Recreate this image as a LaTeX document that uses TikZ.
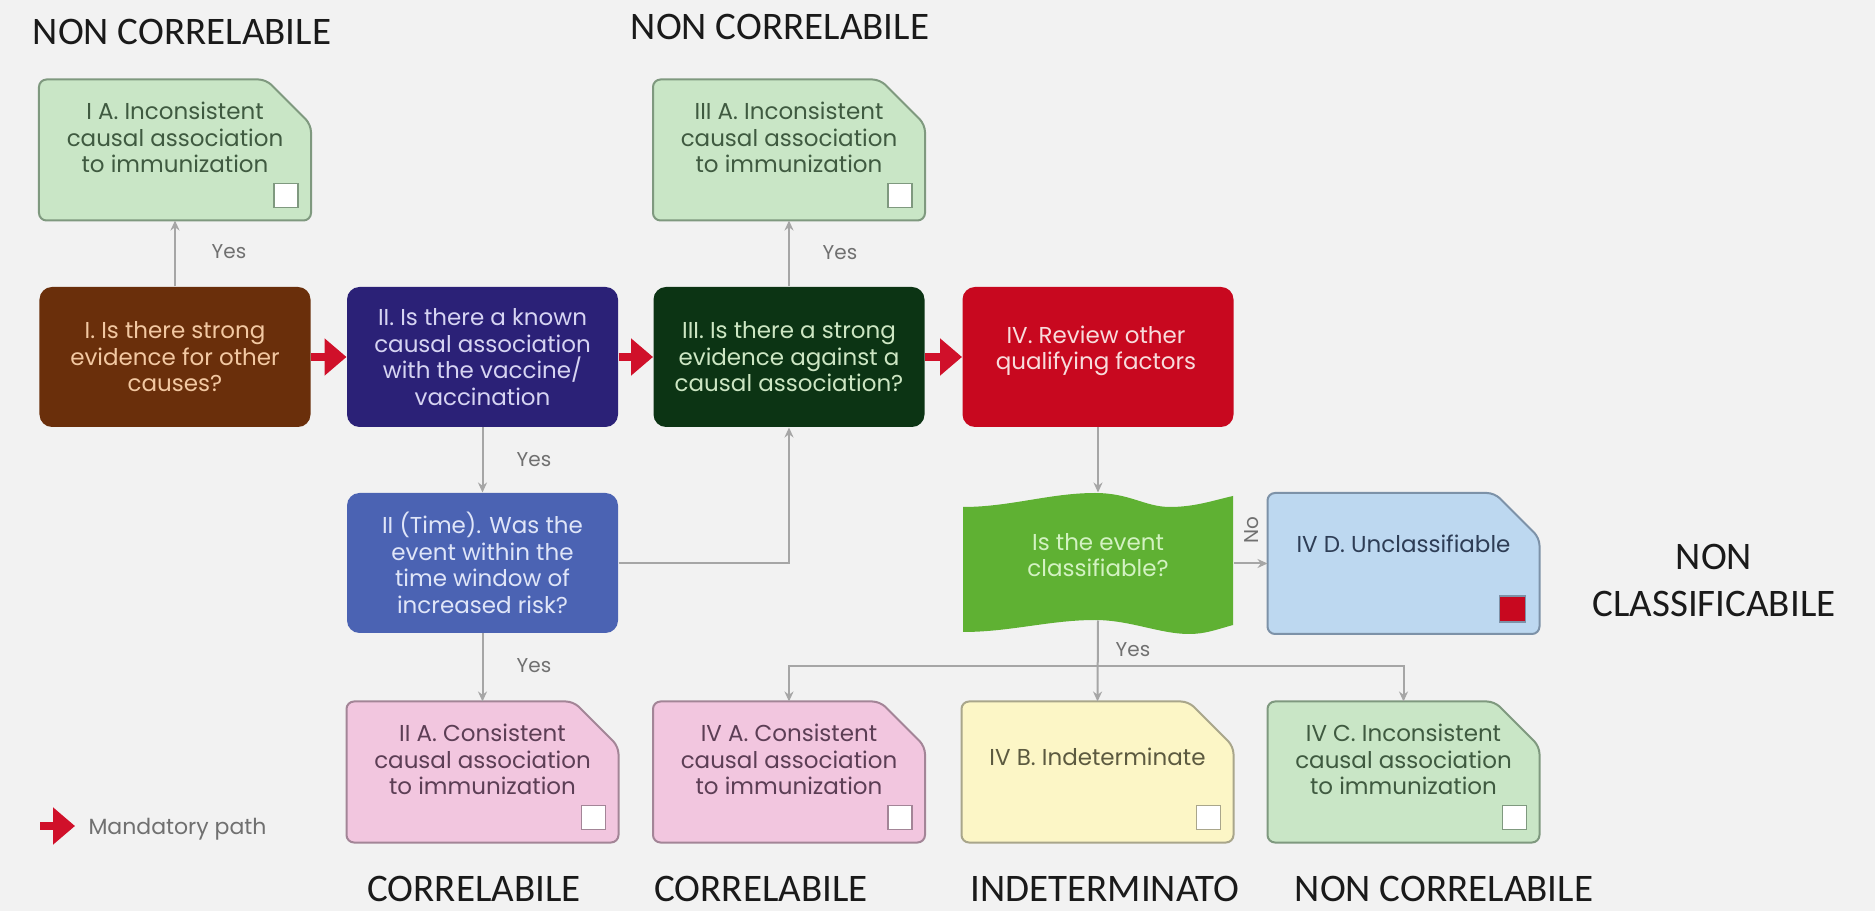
\documentclass[tikz,border=0pt]{standalone}
\usepackage{fontspec}
\setmainfont{Poppins}
\newfontfamily\capfont{Carlito}
\usetikzlibrary{arrows.meta,calc}

\definecolor{paper}{HTML}{F2F2F2}
\definecolor{mandred}{HTML}{D0102A}
\definecolor{linegrey}{HTML}{A6A6A6}
\definecolor{labelgrey}{HTML}{707070}
\definecolor{qbrown}{HTML}{6A2F0B}
\definecolor{qbrowntxt}{HTML}{F2C8A2}
\definecolor{qnavy}{HTML}{2B2177}
\definecolor{qnavytxt}{HTML}{D6D4F2}
\definecolor{qforest}{HTML}{0C3414}
\definecolor{qforesttxt}{HTML}{CDE6C3}
\definecolor{qred}{HTML}{C8081F}
\definecolor{qredtxt}{HTML}{F8DCDC}
\definecolor{qblue}{HTML}{4B63B3}
\definecolor{qbluetxt}{HTML}{DFE5F8}
\definecolor{qgreen}{HTML}{5FB133}
\definecolor{qgreentxt}{HTML}{D3F2C2}
\definecolor{rgreen}{HTML}{C9E6C6}
\definecolor{rgreenline}{HTML}{7F997F}
\definecolor{rgreentxt}{HTML}{3F5A40}
\definecolor{rpink}{HTML}{F2C6DF}
\definecolor{rpinkline}{HTML}{A38597}
\definecolor{rpinktxt}{HTML}{5C3E55}
\definecolor{ryellow}{HTML}{FCF6C6}
\definecolor{ryellowline}{HTML}{A9A68B}
\definecolor{ryellowtxt}{HTML}{5C5A40}
\definecolor{rblue}{HTML}{BDD8F0}
\definecolor{rblueline}{HTML}{7D92A8}
\definecolor{rbluetxt}{HTML}{2E3D55}
\definecolor{inkdark}{HTML}{1A1A1A}

% outcome card: rectangle with the top-right corner cut off
\newcommand\outcomeshape[3]{%
  \draw[fill=#2, draw=#3, line width=0.8pt, rounded corners=3pt]
    (#1.south west) -- (#1.north west) -- ($(#1.north east)+(-45,0)$)
    -- ($(#1.north east)+(0,45)$) -- (#1.south east) -- cycle;}

\tikzset{
  qbox/.style={rectangle, rounded corners=5pt, minimum width=108.4pt,
    minimum height=56pt, inner sep=0pt, align=center,
    font=\fontsize{9.2}{10.6}\selectfont},
  slot/.style={rectangle, minimum width=108.4pt, minimum height=56pt, inner sep=0pt},
  rtext/.style={align=center, inner sep=0pt, font=\fontsize{9.2}{10.6}\selectfont},
  chk/.style={draw=#1, fill=white, line width=0.6pt, minimum size=9.6pt, inner sep=0pt},
  flow/.style={draw=linegrey, line width=0.8pt, -{Stealth[length=4pt,width=3.6pt]}},
  mand/.style={draw=mandred, line width=3pt, -{Triangle[length=8.8pt,width=14.4pt]}},
  yeslbl/.style={text=labelgrey, font=\fontsize{8}{9}\selectfont, inner sep=0pt},
  verdict/.style={text=inkdark, font=\capfont\fontsize{15.6}{17.2}\selectfont,
    inner sep=0pt, anchor=base}
}

\begin{document}
\begin{tikzpicture}[x=0.4pt, y=-0.4pt]
\fill[paper] (0,0) rectangle (1875,911);
\useasboundingbox (0,0) rectangle (1875,911);

% ---- question boxes ----
\node[qbox, fill=qbrown, text=qbrowntxt] (qi) at (175,357)
  {I. Is there strong\\evidence for other\\causes?};
\node[qbox, fill=qnavy, text=qnavytxt] (qii) at (482.5,357)
  {II. Is there a known\\causal association\\with the vaccine/\\vaccination};
\node[qbox, fill=qforest, text=qforesttxt] (qiii) at (789,357)
  {III. Is there a strong\\evidence against a\\causal association?};
\node[qbox, fill=qred] (qiv) at (1098,357) {};
\node[rtext, text=qredtxt] (qiv-t) at (1096,351) {IV. Review other\\qualifying factors};
\node[qbox, fill=qblue, text=qbluetxt] (qiit) at (482.5,563)
  {II (Time). Was the\\event within the\\time window of\\increased risk?};

% ---- classification tape ----
\node[rectangle, minimum width=108.4pt, minimum height=50.8pt, inner sep=0pt] (cls) at (1098,556.5) {};
\fill[qgreen] (963,507) .. controls (1010,507) and (1050,493) .. (1095,493)
  .. controls (1130,493) and (1145,507) .. (1170,507)
  .. controls (1195,507) and (1215,500) .. (1233,496) -- (1233,625)
  .. controls (1215,630) and (1205,634) .. (1189,634)
  .. controls (1160,634) and (1130,620) .. (1095,620)
  .. controls (1050,620) and (1010,632) .. (963,632) -- cycle;
\node[rtext, text=qgreentxt] (cls-t) at (1098,555) {Is the event\\classifiable?};

% ---- outcome cards ----
\node[slot] (ia) at (175,150) {};
\outcomeshape{ia}{rgreen}{rgreenline}
\node[rtext, text=rgreentxt] (ia-t) at ($(ia.north)+(0,58)$) {I A. Inconsistent\\causal association\\to immunization};
\node[chk=rgreenline] (ia-c) at ($(ia.south east)+(-25,-25)$) {};

\node[slot] (iiia) at (789,150) {};
\outcomeshape{iiia}{rgreen}{rgreenline}
\node[rtext, text=rgreentxt] (iiia-t) at ($(iiia.north)+(0,58)$) {III A. Inconsistent\\causal association\\to immunization};
\node[chk=rgreenline] (iiia-c) at ($(iiia.south east)+(-25,-25)$) {};

\node[slot] (ivd) at (1403.5,563.5) {};
\outcomeshape{ivd}{rblue}{rblueline}
\node[rtext, text=rbluetxt] (ivd-t) at ($(ivd.north)+(0,51)$) {IV D. Unclassifiable};
\node[draw=rblueline, fill=qred, line width=0.6pt, minimum size=10.4pt, inner sep=0pt] (ivd-c) at ($(ivd.south east)+(-27,-25)$) {};

\node[slot] (iia) at (482.5,772) {};
\outcomeshape{iia}{rpink}{rpinkline}
\node[rtext, text=rpinktxt] (iia-t) at ($(iia.north)+(0,58)$) {II A. Consistent\\causal association\\to immunization};
\node[chk=rpinkline] (iia-c) at ($(iia.south east)+(-25,-25)$) {};

\node[slot] (iva) at (789,772) {};
\outcomeshape{iva}{rpink}{rpinkline}
\node[rtext, text=rpinktxt] (iva-t) at ($(iva.north)+(0,58)$) {IV A. Consistent\\causal association\\to immunization};
\node[chk=rpinkline] (iva-c) at ($(iva.south east)+(-25,-25)$) {};

\node[slot] (ivb) at (1097.5,772) {};
\outcomeshape{ivb}{ryellow}{ryellowline}
\node[rtext, text=ryellowtxt] (ivb-t) at ($(ivb.north)+(0,55)$) {IV B. Indeterminate};
\node[chk=ryellowline] (ivb-c) at ($(ivb.south east)+(-25,-25)$) {};

\node[slot] (ivc) at (1403.5,772) {};
\outcomeshape{ivc}{rgreen}{rgreenline}
\node[rtext, text=rgreentxt] (ivc-t) at ($(ivc.north)+(0,58)$) {IV C. Inconsistent\\causal association\\to immunization};
\node[chk=rgreenline] (ivc-c) at ($(ivc.south east)+(-25,-25)$) {};

% ---- mandatory path ----
\draw[mand] (qi.east) -- (qii.west);
\draw[mand] (qii.east) -- (qiii.west);
\draw[mand] (qiii.east) -- (qiv.west);

% ---- decision connectors ----
\draw[flow] (qi.north) -- (ia.south);
\node[yeslbl] (yes-i) at (229,252) {Yes};
\draw[flow] (qiii.north) -- (iiia.south);
\node[yeslbl] (yes-iii) at (840,253) {Yes};
\draw[flow] (qii.south) -- (qiit.north);
\node[yeslbl] (yes-ii) at (534,460) {Yes};
\draw[flow] (qiit.east) -| (qiii.south);
\draw[flow] (qiit.south) -- (iia.north);
\node[yeslbl] (yes-iit) at (534,666) {Yes};
\draw[flow] (qiv.south) -- (cls.north);
\draw[flow] (cls.east |- ivd.west) -- (ivd.west);
\node[yeslbl, rotate=90] (no-cls) at (1252,530) {No};
\coordinate (split) at ($(cls.south)+(0,46)$);
\draw[flow] (cls.south) -- (ivb.north);
\draw[flow] (split) -| (iva.north);
\draw[flow] (split) -| (ivc.north);
\node[yeslbl] (yes-cls) at (1133,650) {Yes};

% ---- legend ----
\coordinate (leg-s) at (40,826);
\coordinate (leg-e) at (75,826);
\draw[mand] (leg-s) -- (leg-e);
\node[anchor=west, text=labelgrey, font=\fontsize{8.8}{10}\selectfont, inner sep=0pt] (leg) at (88,829) {Mandatory path};

% ---- verdicts ----
\node[verdict] (v-ia) at (182,45) {NON CORRELABILE};
\node[verdict] (v-iiia) at (780,40) {NON CORRELABILE};
\node[verdict] (v-ivd1) at (1714,570) {NON};
\node[verdict] (v-ivd2) at (1714,617) {CLASSIFICABILE};
\node[verdict] (v-iia) at (474,902) {CORRELABILE};
\node[verdict] (v-iva) at (761,902) {CORRELABILE};
\node[verdict] (v-ivb) at (1105,902) {INDETERMINATO};
\node[verdict] (v-ivc) at (1444,902) {NON CORRELABILE};
\end{tikzpicture}
\end{document}
